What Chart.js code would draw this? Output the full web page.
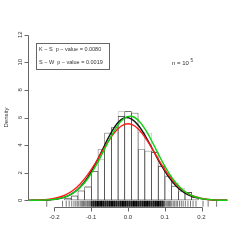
<!DOCTYPE html>
<html>
<head>
<meta charset="utf-8">
<script src="https://cdn.jsdelivr.net/npm/chart.js@4"></script>
<style>
  html, body { margin: 0; padding: 0; background: #fff; }
  canvas { display: block; }
</style>
</head>
<body>
<canvas id="c" width="242" height="242"></canvas>
<script>
// histogram bins (midpoints) and densities, two overlaid histograms
const binWidth = 0.0182;
const histMids = [-0.1635, -0.1453, -0.1271, -0.1089, -0.0907, -0.0725, -0.0543, -0.0361, -0.0179, 0.0003,
  0.0185, 0.0367, 0.0549, 0.0731, 0.0913, 0.1095, 0.1277, 0.1459, 0.1641, 0.1823];
const histBlack = [0.15, 0.35, 0.7, 1.0, 2.1, 3.7, 4.9, 5.3, 6.1, 6.45, 6.35, 3.7, 3.6, 3.5, 2.5, 1.75, 1.05, 0.65, 0.6, 0.25];
const histGray = [0.2, 0.3, 0.75, 1.0, 2.1, 3.0, 4.9, 5.3, 6.45, 6.45, 6.35, 4.95, 4.9, 3.6, 2.5, 1.8, 1.25, 0.9, 0.6, 0.3];

// density curves
const curveX = [-0.27, -0.25, -0.23, -0.21, -0.19, -0.17, -0.15, -0.13, -0.11, -0.09, -0.07, -0.05, -0.03, -0.01,
  0.01, 0.03, 0.05, 0.07, 0.09, 0.11, 0.13, 0.15, 0.17, 0.19, 0.21, 0.23, 0.25, 0.27];
const blackCurve = [0.002, 0.006, 0.017, 0.046, 0.113, 0.254, 0.52, 0.97, 1.652, 2.568, 3.639, 4.706, 5.552, 5.975,
  5.888, 5.367, 4.53, 3.538, 2.559, 1.714, 1.062, 0.61, 0.324, 0.159, 0.072, 0.031, 0.012, 0.004];
const redCurve = [0.007, 0.018, 0.044, 0.099, 0.205, 0.397, 0.711, 1.186, 1.84, 2.648, 3.548, 4.417, 5.112, 5.5,
  5.5, 5.112, 4.417, 3.548, 2.648, 1.84, 1.186, 0.711, 0.397, 0.205, 0.099, 0.044, 0.018, 0.007];
const greenCurve = [0.003, 0.008, 0.021, 0.052, 0.121, 0.259, 0.509, 0.923, 1.545, 2.383, 3.383, 4.429, 5.345, 5.943,
  6.09, 5.752, 5.006, 4.016, 2.969, 2.023, 1.271, 0.735, 0.392, 0.193, 0.087, 0.036, 0.014, 0.005];

// rug positions: sparse tails and dense core
const rugTails = [-0.221, -0.178, -0.168, -0.16, -0.153, -0.147, -0.142, -0.138, -0.134, -0.13, -0.127, -0.124, -0.121,
  -0.118, -0.115, -0.112, -0.11, -0.107, -0.105, -0.103,
  0.101, 0.104, 0.107, 0.11, 0.113, 0.116, 0.119, 0.123, 0.127, 0.131, 0.135, 0.14, 0.145, 0.15, 0.156, 0.163, 0.17,
  0.177, 0.185, 0.204, 0.218, 0.241];
const rugCore = [-0.1, -0.098, -0.095, -0.093, -0.09, -0.088, -0.085, -0.083, -0.08, -0.078, -0.075, -0.072, -0.07,
  -0.067, -0.065, -0.062, -0.06, -0.057, -0.055, -0.052, -0.05, -0.047, -0.045, -0.042, -0.04, -0.037, -0.035, -0.032,
  -0.03, -0.027, -0.025, -0.022, -0.02, -0.017, -0.015, -0.012, -0.01, -0.007, -0.005, -0.002, 0.0, 0.003, 0.005, 0.008,
  0.01, 0.013, 0.015, 0.018, 0.02, 0.023, 0.025, 0.028, 0.03, 0.033, 0.035, 0.038, 0.04, 0.043, 0.045, 0.048, 0.05,
  0.053, 0.055, 0.058, 0.06, 0.063, 0.065, 0.068, 0.07, 0.073, 0.075, 0.078, 0.08, 0.083, 0.085, 0.088, 0.09, 0.093,
  0.095, 0.098];

// axes
const xMin = -0.272, xMax = 0.272;
const yTicks = [0, 2, 4, 6, 8, 10, 12];
const xTicks = [-0.2, -0.1, 0.0, 0.1, 0.2];
const xTickLabels = ['-0.2', '-0.1', '0.0', '0.1', '0.2'];
const legendLines = ['K \u2212 S  p \u2212 value = 0.0080', 'S \u2212 W  p \u2212 value = 0.0019'];

const FONT = '"Liberation Sans", Arial, sans-serif';
const PAD = { left: 28, right: 14, top: 28, bottom: 35 };
const plotWidth = 242 - PAD.left - PAD.right;
const barBorder = 0.6;
// widen by one border so neighbouring outlines share a single edge
const barPx = binWidth / (xMax - xMin) * plotWidth + barBorder;

// R-style axes, legend box and annotation
const rDecor = {
  id: 'rDecor',
  afterDraw(chart) {
    const { ctx, chartArea: a, scales: { x, y } } = chart;
    ctx.save();
    ctx.strokeStyle = '#666';
    ctx.fillStyle = '#333';
    ctx.lineWidth = 1;

    // y axis
    const ax = Math.round(a.left) + 0.5;
    ctx.beginPath();
    ctx.moveTo(ax, Math.round(y.getPixelForValue(yTicks[0])) + 0.5);
    ctx.lineTo(ax, Math.round(y.getPixelForValue(yTicks[yTicks.length - 1])) + 0.5);
    yTicks.forEach(v => {
      const py = Math.round(y.getPixelForValue(v)) + 0.5;
      ctx.moveTo(ax - 4, py);
      ctx.lineTo(ax, py);
    });
    ctx.stroke();
    ctx.font = '6px ' + FONT;
    ctx.textAlign = 'center';
    ctx.textBaseline = 'middle';
    yTicks.forEach(v => {
      ctx.save();
      ctx.translate(ax - 8, y.getPixelForValue(v));
      ctx.rotate(-Math.PI / 2);
      ctx.fillText(String(v), 0, 0);
      ctx.restore();
    });
    ctx.save();
    ctx.translate(6, (a.top + a.bottom) / 2);
    ctx.rotate(-Math.PI / 2);
    ctx.fillText('Density', 0, 0);
    ctx.restore();

    // x axis
    const ay = Math.round(a.bottom) + 0.5;
    ctx.beginPath();
    ctx.moveTo(Math.round(x.getPixelForValue(xTicks[0])) + 0.5, ay);
    ctx.lineTo(Math.round(x.getPixelForValue(xTicks[xTicks.length - 1])) + 0.5, ay);
    xTicks.forEach(v => {
      const px = Math.round(x.getPixelForValue(v)) + 0.5;
      ctx.moveTo(px, ay);
      ctx.lineTo(px, ay + 4);
    });
    ctx.stroke();
    xTicks.forEach((v, i) => {
      ctx.fillText(xTickLabels[i], x.getPixelForValue(v), ay + 10);
    });

    // legend box
    ctx.strokeRect(36.5, 43.5, 73, 26);
    ctx.font = '5.5px ' + FONT;
    ctx.textAlign = 'left';
    ctx.fillText(legendLines[0], 39, 49);
    ctx.fillText(legendLines[1], 39, 62);

    // n = 10^5
    ctx.font = '6px ' + FONT;
    ctx.fillText('n = 10', 172, 63.5);
    ctx.font = '4.5px ' + FONT;
    ctx.fillText('5', 190.5, 60.5);
    ctx.restore();
  }
};

const toPts = (xs, ys) => xs.map((v, i) => ({ x: v, y: ys[i] }));
const rugPts = xs => xs.map(v => ({ x: v, y: -0.24 }));

new Chart(document.getElementById('c'), {
  type: 'bar',
  data: {
    datasets: [
      {
        type: 'line', label: 'green', data: toPts(curveX, greenCurve), order: 0,
        borderColor: '#11d011', borderWidth: 1.4, pointRadius: 0, tension: 0.4, fill: false
      },
      {
        type: 'line', label: 'red', data: toPts(curveX, redCurve), order: 1,
        borderColor: '#ff1a1a', borderWidth: 1.4, pointRadius: 0, tension: 0.4, fill: false
      },
      {
        type: 'line', label: 'black', data: toPts(curveX, blackCurve), order: 2,
        borderColor: '#111', borderWidth: 1.4, pointRadius: 0, tension: 0.4, fill: false
      },
      {
        type: 'bar', label: 'hist', data: toPts(histMids, histBlack), order: 3, grouped: false,
        backgroundColor: 'rgba(0,0,0,0)', borderColor: '#333', borderWidth: barBorder, borderSkipped: false,
        barThickness: barPx, inflateAmount: 0
      },
      {
        type: 'bar', label: 'hist2', data: toPts(histMids, histGray), order: 4, grouped: false,
        backgroundColor: 'rgba(0,0,0,0)', borderColor: '#aaa', borderWidth: barBorder, borderSkipped: false,
        barThickness: barPx, inflateAmount: 0
      },
      {
        type: 'scatter', label: 'rug', data: rugPts(rugCore), order: 5,
        pointStyle: 'line', rotation: 90, pointRadius: 3, pointHoverRadius: 0,
        borderColor: '#000', borderWidth: 1
      },
      {
        type: 'scatter', label: 'rugTails', data: rugPts(rugTails), order: 6,
        pointStyle: 'line', rotation: 90, pointRadius: 3, pointHoverRadius: 0,
        borderColor: '#777', borderWidth: 1
      }
    ]
  },
  options: {
    responsive: false,
    animation: false,
    events: [],
    layout: { padding: PAD },
    plugins: { legend: { display: false }, tooltip: { enabled: false } },
    scales: {
      x: { type: 'linear', min: xMin, max: xMax, offset: false, display: false },
      y: { type: 'linear', min: -0.48, max: 12.48, display: false }
    }
  },
  plugins: [rDecor]
});
</script>
</body>
</html>
